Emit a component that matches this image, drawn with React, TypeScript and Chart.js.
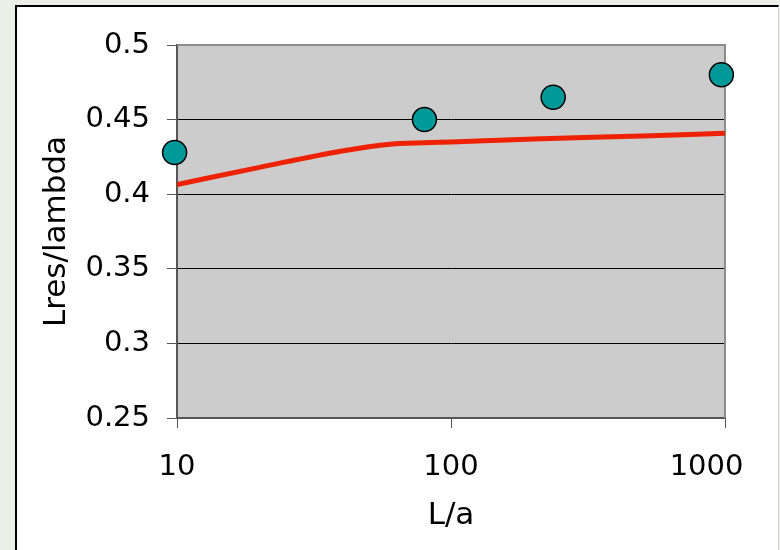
import React, { useEffect, useRef } from "react";
import { Chart, registerables } from "chart.js";

Chart.register(...registerables);

const pointX = [9.8, 80, 236, 970];
const pointY = [0.428, 0.45, 0.465, 0.48];

const lineX = [10, 20, 40, 60, 80, 100, 200, 500, 1000];
const lineY = [0.4065, 0.418, 0.429, 0.4335, 0.4345, 0.435, 0.437, 0.439, 0.4408];

const xTicks = [10, 100, 1000];
const xTickLabels = ["10", "100", "1000    "];
const yMin = 0.25;
const yMax = 0.5;
const yStep = 0.05;

const FONT = "'DejaVu Sans', Verdana, sans-serif";

const plotBg = {
  id: "plotBg",
  beforeDraw(chart: any) {
    const { ctx, chartArea } = chart;
    ctx.save();
    ctx.fillStyle = "#cccccc";
    ctx.fillRect(chartArea.left, chartArea.top, chartArea.right - chartArea.left, chartArea.bottom - chartArea.top);
    ctx.restore();
  },
  beforeDatasetsDraw(chart: any) {
    const { ctx, chartArea } = chart;
    ctx.save();
    ctx.strokeStyle = "#8c8c8c";
    ctx.lineWidth = 2;
    ctx.beginPath();
    ctx.moveTo(chartArea.left, chartArea.top);
    ctx.lineTo(chartArea.right, chartArea.top);
    ctx.lineTo(chartArea.right, chartArea.bottom);
    ctx.stroke();
    ctx.restore();
  },
};

export default function App() {
  const ref = useRef<HTMLCanvasElement | null>(null);

  useEffect(() => {
    document.body.style.margin = "0";
    document.body.style.background = "#ebefe8";
    const canvas = ref.current;
    if (!canvas) return;
    const chart = new Chart(canvas, {
      type: "scatter",
      data: {
        datasets: [
          {
            label: "points",
            data: pointX.map((x, i) => ({ x, y: pointY[i] })),
            pointRadius: 12,
            pointHoverRadius: 12,
            pointBackgroundColor: "#009999",
            pointBorderColor: "#000000",
            pointBorderWidth: 1.5,
            showLine: false,
            clip: false as any,
            order: 0,
          },
          {
            label: "line",
            data: lineX.map((x, i) => ({ x, y: lineY[i] })),
            showLine: true,
            borderColor: "#ee2200",
            borderWidth: 5,
            pointRadius: 0,
            cubicInterpolationMode: "monotone",
            order: 1,
          } as any,
        ],
      },
      options: {
        responsive: false,
        animation: false,
        layout: { padding: { top: 45, right: 55, left: 0, bottom: 0 } },
        plugins: { legend: { display: false }, tooltip: { enabled: false } },
        scales: {
          x: {
            type: "logarithmic",
            min: 10,
            max: 1000,
            afterFit(scale: any) {
              scale.height = 132;
              scale.paddingLeft = 0;
              scale.paddingRight = 0;
            },
            afterBuildTicks(scale: any) {
              scale.ticks = xTicks.map((v) => ({ value: v }));
            },
            ticks: {
              callback: (v: any) => {
                const i = xTicks.indexOf(Number(v));
                return i >= 0 ? xTickLabels[i] : "";
              },
              color: "#000",
              font: { family: FONT, size: 29 },
              padding: 22,
              maxRotation: 0,
              autoSkip: false,
            },
            grid: {
              drawOnChartArea: false,
              tickLength: 10,
              tickColor: "#555",
            },
            border: { color: "#555", width: 2 },
            title: {
              display: true,
              text: "L/a",
              color: "#000",
              font: { family: FONT, size: 31 },
              padding: { top: 0, bottom: 15 },
            },
          },
          y: {
            min: yMin,
            max: yMax,
            afterFit(scale: any) {
              scale.width = 177;
            },
            ticks: {
              stepSize: yStep,
              callback: (v: any) => String(Math.round(Number(v) * 100) / 100),
              color: "#000",
              font: { family: FONT, size: 29 },
              padding: 17,
            },
            grid: {
              color: (c: any) => (c.tick && Math.abs(c.tick.value - yMax) < 1e-9 ? "rgba(0,0,0,0)" : "#000"),
              tickColor: "#555",
              tickLength: 10,
              lineWidth: 1,
            },
            border: { color: "#555", width: 2 },
            title: {
              display: true,
              text: "Lres/lambda",
              color: "#000",
              font: { family: FONT, size: 31 },
              padding: { top: 38, bottom: 0 },
            },
          },
        },
      },
      plugins: [plotBg],
    });
    return () => chart.destroy();
  }, []);

  return (
    <div style={{ position: "relative", width: 780, height: 550, overflow: "hidden" }}>
      <div
        style={{
          position: "absolute",
          left: 15,
          top: 5,
          width: 761,
          height: 560,
          background: "#ffffff",
          borderTop: "2px solid #000",
          borderLeft: "2px solid #000",
          borderRight: "1px solid #d0d0d0",
        }}
      />
      <canvas ref={ref} width={780} height={550} style={{ position: "absolute", left: 0, top: 0 }} />
    </div>
  );
}
